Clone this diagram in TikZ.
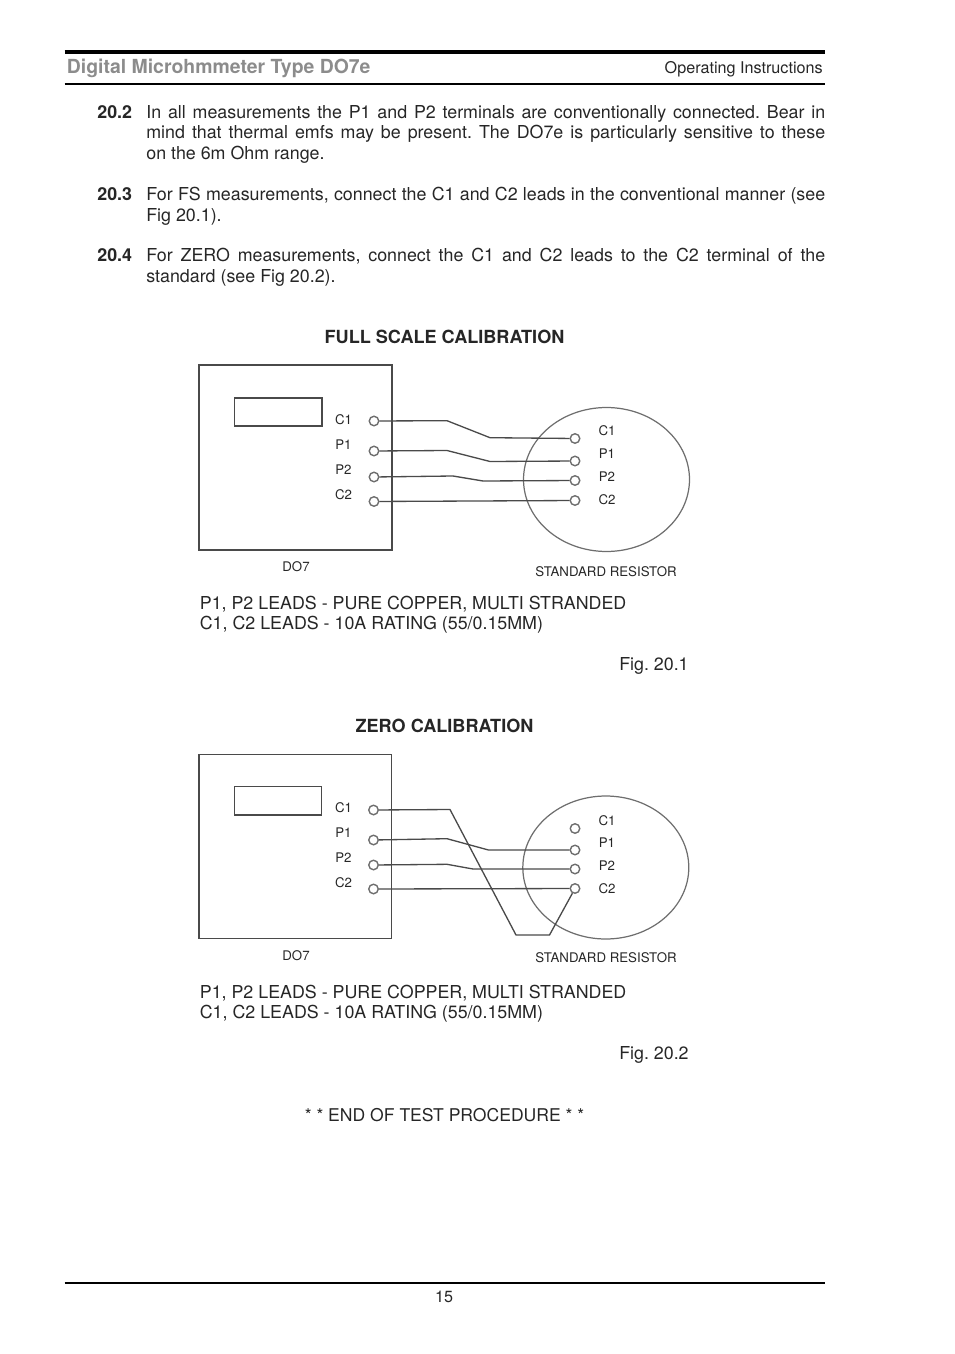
\documentclass[tikz,border=0pt]{standalone}
\usepackage{fontspec}
\setmainfont{TeX Gyre Heros}
\usetikzlibrary{shapes.geometric}
\definecolor{wiregray}{HTML}{4A4A4A}
\definecolor{headgray}{HTML}{8C8C8C}
\tikzset{
	txt/.style={inner sep=0pt, anchor=base west, font=\fontsize{10.15}{12}\selectfont\frenchspacing, text=black!85},
	txtmid/.style={txt, anchor=base},
	small/.style={inner sep=0pt, anchor=base, font=\fontsize{7.55}{9}\selectfont, text=black!85},
	para/.style={txt, anchor=north west, text width=13.58cm, align=justify, font=\fontsize{10.15}{11.65}\selectfont\frenchspacing},
	panel/.style={draw=wiregray, rectangle, line width=0.8pt, inner sep=0pt},
	round/.style={draw=wiregray!80, ellipse, line width=0.7pt, inner sep=0pt, minimum width=3.32cm, minimum height=2.88cm},
	term/.style={draw=wiregray!80, circle, line width=0.8pt, inner sep=0pt, minimum size=0.19cm},
	wire/.style={draw=wiregray, line width=0.75pt}
}
\begin{document}
\begin{tikzpicture}[x=0.02cm, y=-0.02cm]
  \useasboundingbox (0,0) rectangle (954,1354);
  % page head and foot
  \coordinate (head_l) at (64.5,52);
  \coordinate (head_r) at (825,52);
  \coordinate (sub_l) at (64.5,84);
  \coordinate (sub_r) at (825,84);
  \coordinate (foot_l) at (64.5,1283);
  \coordinate (foot_r) at (825,1283);
  \draw [line width=1.8pt] (head_l) -- (head_r);
  \draw [line width=0.8pt] (sub_l) -- (sub_r);
  \draw [line width=0.8pt] (foot_l) -- (foot_r);
  \node (title) [txt, font=\fontsize{11.05}{12}\selectfont\bfseries, text=headgray] at (66.5,73.5) {Digital Microhmmeter Type DO7e};
  \node (ops) [txt, anchor=base east, font=\fontsize{9.2}{11}\selectfont] at (823,73.5) {Operating Instructions};
  \node (page) [txtmid, font=\fontsize{9.2}{11}\selectfont] at (444,1302) {15};
  % paragraphs
  \node (n_a) [txt, font=\fontsize{10.15}{12}\selectfont\bfseries] at (97,118.5) {20.2};
  \node (p_a) [para] at (146,105) {In all measurements the P1 and P2 terminals are conventionally connected. Bear in\linebreak mind that thermal emfs may be present. The DO7e is particularly sensitive to these\linebreak on the 6m Ohm range.};
  \node (n_b) [txt, font=\fontsize{10.15}{12}\selectfont\bfseries] at (97,200.5) {20.3};
  \node (p_b) [para] at (146,187) {For FS measurements, connect the C1 and C2 leads in the conventional manner (see\linebreak Fig 20.1).};
  \node (n_c) [txt, font=\fontsize{10.15}{12}\selectfont\bfseries] at (97,261.5) {20.4};
  \node (p_c) [para] at (146,248) {For ZERO measurements, connect the C1 and C2 leads to the C2 terminal of the\linebreak standard (see Fig 20.2).};
  % full scale
  \node (fs_title) [txtmid, font=\fontsize{10.3}{12}\selectfont\bfseries] at (444.5,343.5) {FULL SCALE CALIBRATION};
  \node (do7_a) [panel, minimum width=3.86cm, minimum height=3.7cm] at (295.5,457.5) {};
  \node (lcd_a) [panel, minimum width=1.746cm, minimum height=0.566cm] at (278.3,412) {};
  \node (std_a) [round] at (606.5,479.5) {};
  \node (lc1_a) [term] at (374,421) {};
  \node (lp1_a) [term] at (374,451) {};
  \node (lp2_a) [term] at (374,477) {};
  \node (lc2_a) [term] at (374,501.5) {};
  \node (rc1_a) [term] at (575,438.5) {};
  \node (rp1_a) [term] at (575,461) {};
  \node (rp2_a) [term] at (575,480.5) {};
  \node (rc2_a) [term] at (575,500.5) {};
  \node (lt1_a) [small] at (343.5,424) {C1};
  \node (lt2_a) [small] at (343.5,449) {P1};
  \node (lt3_a) [small] at (343.5,474) {P2};
  \node (lt4_a) [small] at (343.5,499) {C2};
  \node (rt1_a) [small] at (607,435) {C1};
  \node (rt2_a) [small] at (607,458) {P1};
  \node (rt3_a) [small] at (607,481) {P2};
  \node (rt4_a) [small] at (607,504) {C2};
  \node (do7_t_a) [small] at (296,571) {DO7};
  \node (std_t_a) [small] at (606,576) {STANDARD RESISTOR};
  \coordinate (b1_a) at (447,420.7);
  \coordinate (b2_a) at (490,437.7);
  \coordinate (b3_a) at (447,450.5);
  \coordinate (b4_a) at (490,461.5);
  \coordinate (b5_a) at (453,476);
  \coordinate (b6_a) at (483,481);
  \draw [wire] (lc1_a) -- (b1_a) -- (b2_a) -- (rc1_a);
  \draw [wire] (lp1_a) -- (b3_a) -- (b4_a) -- (rp1_a);
  \draw [wire] (lp2_a) -- (b5_a) -- (b6_a) -- (rp2_a);
  \draw [wire] (lc2_a) -- (rc2_a);
  \node (lead1_a) [txt] at (199.5,609) {P1, P2 LEADS - PURE COPPER, MULTI STRANDED};
  \node (lead2_a) [txt] at (199.5,629) {C1, C2 LEADS - 10A RATING (55/0.15MM)};
  \node (fig_a) [txt, anchor=base east] at (689,670) {Fig. 20.1};
  % zero
  \node (z_title) [txtmid, font=\fontsize{10.3}{12}\selectfont\bfseries] at (444.5,732) {ZERO CALIBRATION};
  \node (do7_b) [panel, minimum width=3.85cm, minimum height=3.68cm] at (295.3,846.3) {};
  \node (lcd_b) [panel, minimum width=1.74cm, minimum height=0.574cm] at (278,800.6) {};
  \node (std_b) [round, minimum height=2.86cm] at (605.8,867.5) {};
  \node (lc1_b) [term] at (373.5,810) {};
  \node (lp1_b) [term] at (373.5,840) {};
  \node (lp2_b) [term] at (373.5,865) {};
  \node (lc2_b) [term] at (373.5,889) {};
  \node (rc1_b) [term] at (575,828.5) {};
  \node (rp1_b) [term] at (575,850) {};
  \node (rp2_b) [term] at (575,869) {};
  \node (rc2_b) [term] at (575,888.5) {};
  \node (lt1_b) [small] at (343.5,812) {C1};
  \node (lt2_b) [small] at (343.5,837) {P1};
  \node (lt3_b) [small] at (343.5,862) {P2};
  \node (lt4_b) [small] at (343.5,887) {C2};
  \node (rt1_b) [small] at (607,825) {C1};
  \node (rt2_b) [small] at (607,847) {P1};
  \node (rt3_b) [small] at (607,870) {P2};
  \node (rt4_b) [small] at (607,893) {C2};
  \node (do7_t_b) [small] at (296,960) {DO7};
  \node (std_t_b) [small] at (606,962) {STANDARD RESISTOR};
  \coordinate (b1_b) at (450,809.5);
  \coordinate (b2_b) at (516,935);
  \coordinate (b3_b) at (549.5,935);
  \coordinate (b4_b) at (447,838.7);
  \coordinate (b5_b) at (488.5,850);
  \coordinate (b6_b) at (447,864.3);
  \coordinate (b7_b) at (473,869);
  \draw [wire] (lc1_b) -- (b1_b) -- (b2_b) -- (b3_b) -- (rc2_b);
  \draw [wire] (lp1_b) -- (b4_b) -- (b5_b) -- (rp1_b);
  \draw [wire] (lp2_b) -- (b6_b) -- (b7_b) -- (rp2_b);
  \draw [wire] (lc2_b) -- (rc2_b);
  \node (lead1_b) [txt] at (199.5,998) {P1, P2 LEADS - PURE COPPER, MULTI STRANDED};
  \node (lead2_b) [txt] at (199.5,1018) {C1, C2 LEADS - 10A RATING (55/0.15MM)};
  \node (fig_b) [txt, anchor=base east] at (689,1059) {Fig. 20.2};
  \node (end_t) [txtmid, font=\fontsize{10}{12}\selectfont\frenchspacing] at (444.5,1121) {* * END OF TEST PROCEDURE * *};
\end{tikzpicture}
\end{document}
